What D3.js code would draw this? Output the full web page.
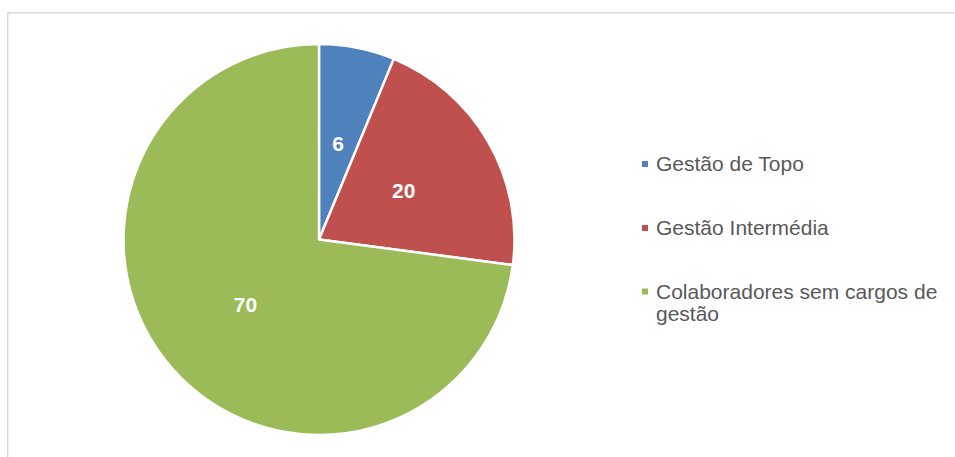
<!DOCTYPE html>
<html>
<head>
<meta charset="utf-8">
<script src="https://cdn.jsdelivr.net/npm/d3@7"></script>
<style>
  html, body { margin: 0; padding: 0; background: #fff; }
  svg { display: block; }
</style>
</head>
<body>
<svg id="chart" width="955" height="457"></svg>
<script>
// Staff distribution by management level
const categories = ["Gestão de Topo", "Gestão Intermédia", "Colaboradores sem cargos de gestão"];
const values = [6, 20, 70];
const colors = ["#4f81bd", "#c0504d", "#9bbb59"];

const svg = d3.select("#chart");

// chart frame
svg.append("rect")
  .attr("x", 7.75).attr("y", 12.75)
  .attr("width", 960).attr("height", 460)
  .attr("fill", "none")
  .attr("stroke", "#d9d9d9")
  .attr("stroke-width", 1.5);

const cx = 319, cy = 239.5, radius = 195.5;

const pie = d3.pie().sort(null).value(d => d.value);
const arcs = pie(categories.map((c, i) => ({ name: c, value: values[i], color: colors[i] })));

const arc = d3.arc().innerRadius(0).outerRadius(radius);
const labelArc = d3.arc().innerRadius(radius * 0.5).outerRadius(radius * 0.5);

const g = svg.append("g").attr("transform", `translate(${cx},${cy})`);

g.selectAll("path.slice")
  .data(arcs)
  .join("path")
  .attr("class", "slice")
  .attr("d", arc)
  .attr("fill", d => d.data.color)
  .attr("stroke", "#fff")
  .attr("stroke-width", 2.5)
  .attr("stroke-linejoin", "round");

g.selectAll("text.val")
  .data(arcs)
  .join("text")
  .attr("class", "val")
  .attr("transform", d => `translate(${labelArc.centroid(d)})`)
  .attr("text-anchor", "middle")
  .attr("dy", "0.36em")
  .attr("font-family", "Liberation Sans, Arial, sans-serif")
  .attr("font-weight", "bold")
  .attr("font-size", 21)
  .attr("fill", "#fff")
  .text(d => d.data.value);

// legend
const legend = svg.append("g").attr("transform", "translate(642,0)");
const legendY = [164, 228, 291.5];
const legendLines = [["Gestão de Topo"], ["Gestão Intermédia"], ["Colaboradores sem cargos de", "gestão"]];

categories.forEach((c, i) => {
  const row = legend.append("g").attr("transform", `translate(0,${legendY[i]})`);
  row.append("rect")
    .attr("x", 0).attr("y", -3)
    .attr("width", 6).attr("height", 6)
    .attr("fill", colors[i]);
  const t = row.append("text")
    .attr("font-family", "Liberation Sans, Arial, sans-serif")
    .attr("font-size", 21)
    .attr("fill", "#595959");
  legendLines[i].forEach((line, j) => {
    t.append("tspan")
      .attr("x", 14)
      .attr("y", j * 22)
      .attr("dy", "0.35em")
      .text(line);
  });
});
</script>
</body>
</html>
